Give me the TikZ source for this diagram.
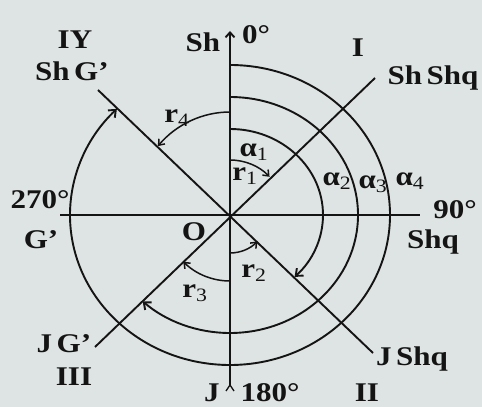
\documentclass[tikz,border=0pt]{standalone}
\usepackage{fontspec}
\setmainfont{Liberation Serif}[FakeStretch=1.15]
\usetikzlibrary{arrows.meta,calc}
\definecolor{bg}{RGB}{222,228,227}
\definecolor{ink}{RGB}{20,20,20}
\newcommand\sbs[1]{\textsubscript{\mdseries #1}}
\newcommand\lblfont{\fontsize{27}{30}\selectfont\bfseries}
\begin{document}
\begin{tikzpicture}[x=1pt,y=1pt,
  every node/.style={font=\lblfont,text=ink,inner sep=0pt},
  axis/.style={draw=ink,line width=1.9pt},
  arr/.style={draw=ink,line width=1.9pt,-{Straight Barb[length=6pt,width=10pt]}},
  sarr/.style={draw=ink,line width=1.5pt,-{Straight Barb[length=5pt,width=8pt]}}]
\fill[bg] (0,0) rectangle (482,407);
\useasboundingbox (0,0) rectangle (482,407);
% key points
\coordinate (O) at (230,192);
\coordinate (top) at (230,376);
\coordinate (bot) at (230,22);
\coordinate (W) at (60,192);
\coordinate (E) at (420,192);
\coordinate (NE) at (375,329);
\coordinate (SW) at (95,60);
\coordinate (NW) at (98,317);
\coordinate (SE) at (373,54);
% axes
\draw[axis,-{Straight Barb[length=5pt,width=9pt]}] (bot) -- (top);
\draw[axis,line width=1.3pt] (bot) -- ++(-4,-6);
\draw[axis,line width=1.3pt] (bot) -- ++(4,-6);
\draw[axis] (W) -- (E);
\draw[axis] (SW) -- (NE);
\draw[axis] (NW) -- (SE);
% big arcs
\coordinate (a1) at ($(O)+(0,86)$);
\coordinate (a2) at ($(O)+(0,118)$);
\coordinate (a3) at ($(O)+(0,150)$);
\draw[arr] (a1) arc[start angle=90,end angle=-46,x radius=93,y radius=86];
\draw[arr] (a2) arc[start angle=90,end angle=-133,x radius=128,y radius=118];
\draw[arr] (a3) arc[start angle=90,end angle=-225,x radius=160,y radius=150];
% small arcs
\coordinate (s4) at ($(O)+(0,103)$);
\coordinate (s1) at ($(O)+(0,55)$);
\coordinate (s2) at ($(O)+(0,-38)$);
\coordinate (s3) at ($(O)+(0,-66)$);
\draw[sarr] (s4) arc[start angle=90,end angle=138,x radius=97,y radius=103];
\draw[sarr] (s1) arc[start angle=90,end angle=44,radius=55];
\draw[sarr] (s2) arc[start angle=-90,end angle=-44,radius=38];
\draw[sarr] (s3) arc[start angle=-90,end angle=-135,radius=66];
% labels
\node (lIY) at (75,367) {IY};
\node (lShG) at (72,336) {Sh\,G'};
\node (lSh) at (203,365) {Sh};
\node (l0) at (256,372) {0°};
\node (lI) at (358,359) {I};
\node (lShShq) at (433,329) {Sh\,Shq};
\node (lr4) at (177,289) {r\sbs{4}};
\node (lal1) at (254,255) {α\sbs{1}};
\node (lr1) at (245,231) {r\sbs{1}};
\node (lal2) at (337,226) {α\sbs{2}};
\node (lal3) at (373,223) {α\sbs{3}};
\node (lal4) at (410,226) {α\sbs{4}};
\node (l270) at (40,207) {270°};
\node (l90) at (455,197) {90°};
\node (lG) at (41,167) {G'};
\node (lO) at (194,175) {O};
\node (lShq) at (433,165) {Shq};
\node (lr2) at (254,134) {r\sbs{2}};
\node (lr3) at (195,114) {r\sbs{3}};
\node (lJG) at (64,63) {J\,G'};
\node (lJShq) at (412,48) {J\,Shq};
\node (lIII) at (74,30) {III};
\node (lJ) at (212,14) {J};
\node (l180) at (270,14) {180°};
\node (lII) at (367,14) {II};
\end{tikzpicture}
\end{document}
